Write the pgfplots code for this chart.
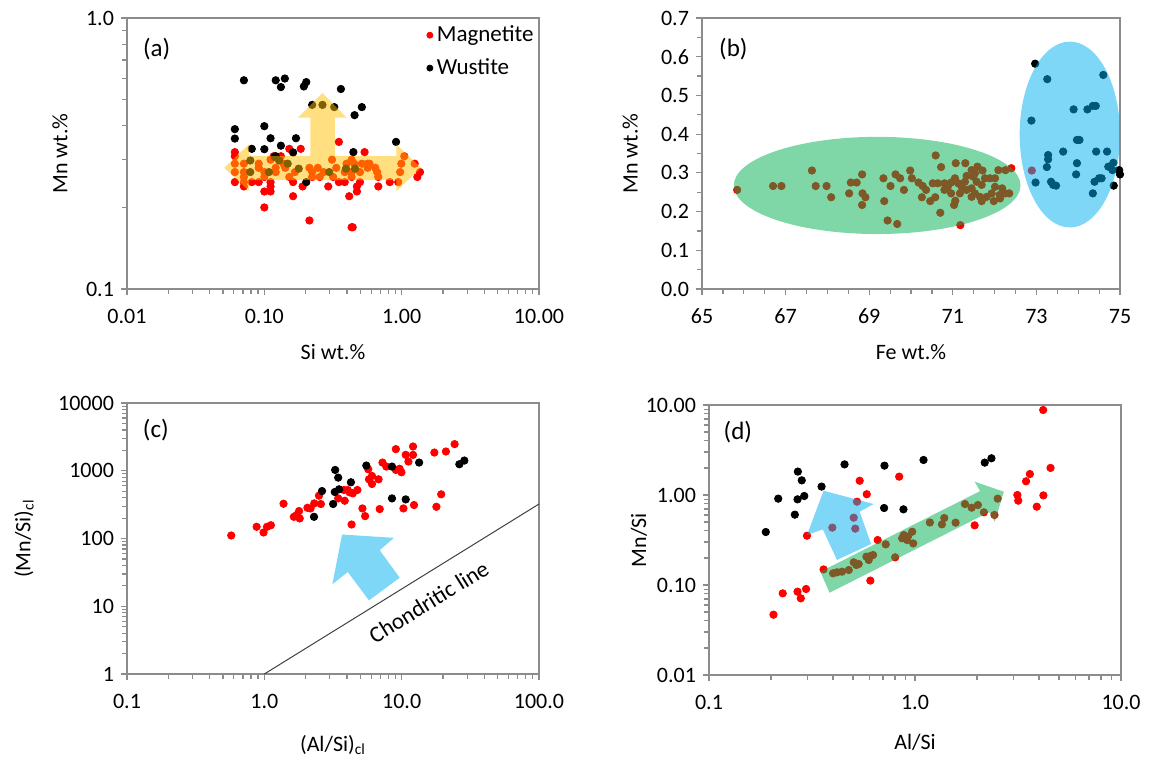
\documentclass[border=0pt]{standalone}
\usepackage{fontspec}
\setmainfont{Carlito}
\usepackage{pgfplots}
\pgfplotsset{compat=1.18}

\definecolor{xlgold}{HTML}{FFC000}
\definecolor{xlgreen}{HTML}{00B050}
\definecolor{xlblue}{HTML}{00B0F0}
\definecolor{axgray}{HTML}{8C8C8C}
\newcommand\tfs{\fontsize{11}{13}\selectfont}

\pgfplotsset{
  panel/.style={
    clip marker paths=true,
    scale only axis, width=206pt, height=135.5pt, anchor=south west,
    axis line style={axgray, line width=0.6pt},
    tick align=outside, xtick pos=left, ytick pos=left,
    major tick length=3pt, minor tick length=2.5pt,
    tick style={axgray, line width=0.6pt},
    tick label style={font=\tfs},
    xticklabel style={yshift=-3.5pt},
    label style={font=\tfs},
  },
  mag/.style={only marks, mark=*, mark size=1.85pt, red, mark options={draw=red, fill=red}},
  wus/.style={only marks, mark=*, mark size=1.85pt, black, mark options={draw=black, fill=black}},
}

\begin{document}
\begin{tikzpicture}
\useasboundingbox (0,0) rectangle (578.5pt,378pt);

% ---------------- (a)
\begin{axis}[panel, at={(63.5pt,233.5pt)},
  xmode=log, ymode=log, xmin=0.01, xmax=10, ymin=0.1, ymax=1,
  xtick={0.01,0.1,1,10}, xticklabels={0.01,0.10,1.00,10.00},
  ytick={0.1,1}, yticklabels={0.1,1.0},
  minor xtick={0.02,0.03,0.04,0.05,0.06,0.07,0.08,0.09,0.2,0.3,0.4,0.5,0.6,0.7,0.8,0.9,2,3,4,5,6,7,8,9},
  minor ytick={0.2,0.3,0.4,0.5,0.6,0.7,0.8,0.9},
  xlabel={Si wt.\%}, ylabel={Mn wt.\%},
  xlabel style={at={(axis description cs:0.5,-0.232)}, anchor=center},
  ylabel style={at={(axis description cs:-0.163,0.5)}, anchor=center},
  legend style={at={(0.722,0.995)}, anchor=north west, draw=none, fill=none,
    font=\fontsize{11.5}{13}\selectfont, row sep=3pt, inner sep=1pt},
  legend cell align=left,
  legend image code/.code={\draw[#1, mark size=1.5pt] plot coordinates {(0.1cm,0cm)};},
]
\addplot[mag] coordinates {
(0.349,0.349)
(0.152,0.329)(0.184,0.329)
(0.061,0.320)(0.537,0.320)
(0.061,0.309)(0.117,0.309)(0.132,0.309)(1.045,0.309)
(0.111,0.300)(0.311,0.300)(0.432,0.300)
(0.061,0.290)(0.071,0.290)(0.091,0.290)(0.138,0.290)(0.397,0.290)(0.451,0.290)(0.513,0.290)(0.565,0.290)(0.583,0.290)(0.994,0.290)(1.244,0.290)
(0.091,0.280)(0.121,0.280)(0.142,0.280)(0.213,0.280)(0.245,0.280)(0.334,0.280)(0.565,0.280)(0.642,0.280)
(0.061,0.270)(0.071,0.270)(0.100,0.270)(0.121,0.270)(0.167,0.270)(0.223,0.270)(0.270,0.270)(0.385,0.270)(0.432,0.270)(0.497,0.270)(0.663,0.270)(0.975,0.270)(1.360,0.270)
(0.071,0.259)(0.100,0.259)(0.152,0.259)(0.223,0.259)(0.253,0.259)(0.317,0.259)(0.432,0.259)(0.676,0.259)(1.301,0.259)
(0.061,0.248)(0.071,0.248)(0.081,0.248)(0.091,0.248)(0.111,0.248)(0.162,0.248)(0.349,0.248)(0.385,0.248)(0.497,0.248)(0.819,0.248)(0.944,0.248)
(0.071,0.239)(0.111,0.239)(0.190,0.239)(0.292,0.239)(0.472,0.239)(0.676,0.239)
(0.100,0.229)(0.111,0.229)(0.472,0.229)
(0.162,0.220)(0.415,0.220)
(0.100,0.200)
(0.213,0.179)
(0.432,0.169)(0.440,0.169)
};
\addlegendentry{Magnetite}
\addplot[wus] coordinates {
(0.071,0.589)(0.121,0.589)(0.141,0.598)(0.132,0.556)(0.194,0.559)(0.202,0.580)(0.361,0.547)
(0.223,0.478)(0.265,0.478)(0.323,0.469)(0.513,0.469)(0.454,0.438)
(0.061,0.389)(0.061,0.359)(0.100,0.399)(0.111,0.360)(0.170,0.360)
(0.081,0.329)(0.100,0.328)(0.132,0.338)(0.162,0.319)(0.445,0.320)(0.910,0.349)
(0.121,0.309)(0.202,0.248)
(0.079,0.298)(0.079,0.270)(0.108,0.270)(0.119,0.307)(0.128,0.298)(0.148,0.290)(0.178,0.278)(0.297,0.270)(0.393,0.278)(0.458,0.278)
};
\addlegendentry{Wustite}
\fill[xlgold, fill opacity=0.5] (axis cs:0.051,0.280) -- (axis cs:0.0774,0.342) -- (axis cs:0.0774,0.310)
  -- (axis cs:0.216,0.310) -- (axis cs:0.216,0.429) -- (axis cs:0.176,0.429) -- (axis cs:0.265,0.529)
  -- (axis cs:0.397,0.429) -- (axis cs:0.327,0.429) -- (axis cs:0.327,0.310) -- (axis cs:0.914,0.310)
  -- (axis cs:0.914,0.342) -- (axis cs:1.387,0.280) -- (axis cs:0.914,0.230) -- (axis cs:0.914,0.252)
  -- (axis cs:0.0774,0.252) -- (axis cs:0.0774,0.230) -- cycle;
\node[font=\fontsize{12.5}{14}\selectfont] at (rel axis cs:0.072,0.887) {(a)};
\end{axis}

% ---------------- (b)
\begin{axis}[panel, at={(351pt,233.5pt)}, width=209pt, clip=false,
  xmin=65, xmax=75, ymin=0, ymax=0.7,
  xtick={65,67,69,71,73,75}, xticklabels={65,67,69,71,73,75}, minor x tick num=3,
  ytick={0,0.1,0.2,0.3,0.4,0.5,0.6,0.7}, yticklabels={0.0,0.1,0.2,0.3,0.4,0.5,0.6,0.7}, minor y tick num=1,
  xlabel={Fe wt.\%}, ylabel={Mn wt.\%},
  xlabel style={at={(axis description cs:0.5,-0.232)}, anchor=center},
  ylabel style={at={(axis description cs:-0.172,0.5)}, anchor=center},
]
\addplot[mag] coordinates {
(65.84,0.256)(66.70,0.266)(66.90,0.266)(67.63,0.306)(67.72,0.266)(67.98,0.266)(68.09,0.237)(68.52,0.247)
(68.56,0.275)(68.70,0.275)(68.83,0.296)(68.84,0.247)(68.91,0.237)(68.83,0.217)(69.34,0.286)(69.51,0.266)
(69.36,0.227)(69.44,0.177)(69.67,0.168)(69.63,0.296)(69.74,0.286)(69.83,0.256)(69.98,0.306)(70.02,0.286)
(70.18,0.275)(70.28,0.266)(70.36,0.256)(70.26,0.237)(70.46,0.227)(70.59,0.345)(70.58,0.237)(70.72,0.315)
(70.70,0.197)(70.52,0.273)(70.64,0.273)(70.80,0.273)(70.88,0.264)(70.96,0.275)(71.05,0.286)(71.13,0.273)
(71.21,0.264)(71.29,0.277)(71.33,0.292)(71.07,0.325)(71.30,0.325)(71.06,0.228)(71.03,0.217)(71.18,0.165)
(71.45,0.307)(71.59,0.316)(71.71,0.306)(71.45,0.260)(71.53,0.247)(71.65,0.238)(71.69,0.227)(71.81,0.238)
(71.93,0.247)(72.01,0.264)(72.12,0.243)(72.18,0.260)(72.26,0.247)(72.35,0.247)(72.09,0.307)(72.26,0.307)
(72.40,0.312)(71.98,0.227)(72.13,0.234)(71.77,0.286)(71.89,0.286)(72.01,0.286)(71.49,0.290)(71.57,0.277)
(71.69,0.269)(70.96,0.247)(70.80,0.256)(71.45,0.238)(71.33,0.256)(71.17,0.247)(71.53,0.299)
(72.89,0.306)
};
\addplot[wus] coordinates {
(72.97,0.582)(73.26,0.542)(74.60,0.553)(73.89,0.464)(74.22,0.464)(74.35,0.473)(74.42,0.473)(72.88,0.435)
(73.97,0.385)(74.03,0.385)(73.64,0.355)(74.43,0.355)(74.69,0.355)(73.28,0.346)(73.28,0.335)(73.25,0.315)
(73.97,0.325)(73.95,0.296)(74.72,0.316)(74.84,0.326)(74.82,0.307)(74.98,0.307)(75.00,0.296)(72.98,0.275)
(73.35,0.277)(73.40,0.269)(73.47,0.267)(74.39,0.277)(74.50,0.286)(74.56,0.286)(74.35,0.247)(74.85,0.267)
};
\fill[xlgreen, fill opacity=0.5] (axis cs:69.19,0.2675) ellipse [x radius=3.43, y radius=0.1255];
\fill[xlblue, fill opacity=0.5] (axis cs:73.80,0.399) ellipse [x radius=1.20, y radius=0.240];
\node[font=\fontsize{12.5}{14}\selectfont] at (rel axis cs:0.075,0.887) {(b)};
\end{axis}

% ---------------- (c)
\begin{axis}[panel, at={(63.5pt,41pt)},
  xmode=log, ymode=log, xmin=0.1, xmax=100, ymin=1, ymax=10000,
  xtick={0.1,1,10,100}, xticklabels={0.1,1.0,10.0,100.0},
  ytick={1,10,100,1000,10000}, yticklabels={1,10,100,1000,10000},
  minor xtick={0.2,0.3,0.4,0.5,0.6,0.7,0.8,0.9,2,3,4,5,6,7,8,9,20,30,40,50,60,70,80,90},
  minor ytick={2,3,4,5,6,7,8,9,20,30,40,50,60,70,80,90,200,300,400,500,600,700,800,900,2000,3000,4000,5000,6000,7000,8000,9000},
  xlabel={(Al/Si)\textsubscript{cl}}, ylabel={(Mn/Si)\textsubscript{cl}},
  xlabel style={at={(axis description cs:0.5,-0.262)}, anchor=center},
  ylabel style={at={(axis description cs:-0.25,0.5)}, anchor=center},
]
\addplot[mag] coordinates {
(0.574,110.8)(0.879,149)(0.987,122.7)(1.046,149)(1.116,157)(1.38,326)(1.64,209)(1.72,222)(1.79,254)(1.81,198)
(2.06,284)(2.17,278)(2.31,330)(2.50,429)(2.58,323)(3.45,391)(3.80,520)(4.05,520)(3.85,361)(4.18,480)(4.41,464)
(4.76,520)(4.32,161)(5.18,278)(5.42,214)(5.71,1052)(5.78,748)(6.08,838)(6.08,638)(6.79,748)(6.92,272)(7.25,1321)
(7.73,1153)(9.07,2085)(9.07,1028)(9.66,1070)(9.96,950)(10.3,278)(10.7,1717)(11.2,1368)(12.1,2280)(12.1,1717)
(12.3,312)(17.3,1857)(17.9,294)(19.4,449)(21.0,1924)(24.3,2472)
};
\addplot[wus] coordinates {
(2.30,209)(2.63,502)(3.17,323)(3.26,486)(3.28,1028)(3.45,792)(3.50,532)(4.27,676)(5.53,1194)(8.50,1153)
(8.50,391)(10.7,378)(13.4,1321)(26.3,1248)(28.6,1415)
};
\addplot[black!75, line width=0.5pt] coordinates {(1,1) (100,323)}
  node[pos=0.55, below=5pt, sloped, font=\fontsize{11.5}{13}\selectfont, text=black] {Chondritic line};
\fill[xlblue, fill opacity=0.5] (axis cs:3.68,114.6) -- (axis cs:8.79,102.3) -- (axis cs:6.92,67.1)
  -- (axis cs:9.68,26.4) -- (axis cs:5.78,12.2) -- (axis cs:4.05,32.1) -- (axis cs:3.13,21.1) -- cycle;
\node[font=\fontsize{12.5}{14}\selectfont] at (rel axis cs:0.07,0.90) {(c)};
\end{axis}

% ---------------- (d)
\begin{axis}[panel, at={(354.5pt,40.5pt)}, height=135pt,
  xmode=log, ymode=log, xmin=0.1, xmax=10, ymin=0.01, ymax=10,
  xtick={0.1,1,10}, xticklabels={0.1,1.0,10.0},
  ytick={0.01,0.1,1,10}, yticklabels={0.01,0.10,1.00,10.00},
  minor xtick={0.2,0.3,0.4,0.5,0.6,0.7,0.8,0.9,2,3,4,5,6,7,8,9},
  minor ytick={0.02,0.03,0.04,0.05,0.06,0.07,0.08,0.09,0.2,0.3,0.4,0.5,0.6,0.7,0.8,0.9,2,3,4,5,6,7,8,9},
  xlabel={Al/Si}, ylabel={Mn/Si},
  xlabel style={at={(axis description cs:0.5,-0.248)}, anchor=center},
  ylabel style={at={(axis description cs:-0.17,0.5)}, anchor=center},
]
\addplot[mag] coordinates {
(0.539,1.44)(0.838,1.60)(0.583,1.02)(0.299,0.353)(0.659,0.316)(0.360,0.149)(0.607,0.112)(0.801,0.203)
(0.228,0.0808)(0.269,0.0843)(0.296,0.0903)(0.279,0.0711)(0.2056,0.0468)
(0.523,0.843)(0.504,0.560)(0.513,0.423)(0.397,0.434)
(0.400,0.1348)(0.418,0.1383)(0.442,0.1406)(0.477,0.1468)(0.504,0.1787)(0.533,0.171)(0.519,0.1668)
(0.581,0.2065)(0.607,0.210)(0.626,0.2154)(0.596,0.1896)(0.721,0.283)(0.866,0.330)(0.916,0.316)(0.882,0.359)
(0.969,0.391)(0.980,0.290)(0.923,0.344)(1.181,0.495)(1.351,0.472)(1.387,0.555)(1.574,0.493)(1.748,0.794)
(1.884,0.723)(2.02,0.774)(2.16,0.642)(2.43,0.600)(2.52,0.911)
(4.19,8.80)(3.61,1.71)(3.46,1.42)(4.55,2.0)(3.14,1.0)(3.17,0.865)(4.20,0.99)(3.90,0.742)(1.948,0.46)
};
\addplot[wus] coordinates {
(0.270,1.82)(0.282,1.455)(0.455,2.19)(0.711,2.12)(1.10,2.45)(0.352,1.24)(0.290,0.975)(0.269,0.895)
(0.2168,0.911)(0.261,0.605)(0.1887,0.388)(0.708,0.717)(0.879,0.693)(2.18,2.29)(2.35,2.56)
};
\fill[xlblue, fill opacity=0.5] (axis cs:0.360,1.117) -- (axis cs:0.630,0.794) -- (axis cs:0.539,0.653)
  -- (axis cs:0.612,0.2855) -- (axis cs:0.418,0.1896) -- (axis cs:0.357,0.415) -- (axis cs:0.299,0.359) -- cycle;
\fill[xlgreen, fill opacity=0.5] (axis cs:0.347,0.1405) -- (axis cs:2.07,1.105) -- (axis cs:1.948,1.406)
  -- (axis cs:2.70,1.088) -- (axis cs:2.44,0.505) -- (axis cs:2.29,0.646) -- (axis cs:0.385,0.0821) -- cycle;
\node[font=\fontsize{12.5}{14}\selectfont] at (rel axis cs:0.07,0.90) {(d)};
\end{axis}
\end{tikzpicture}
\end{document}
